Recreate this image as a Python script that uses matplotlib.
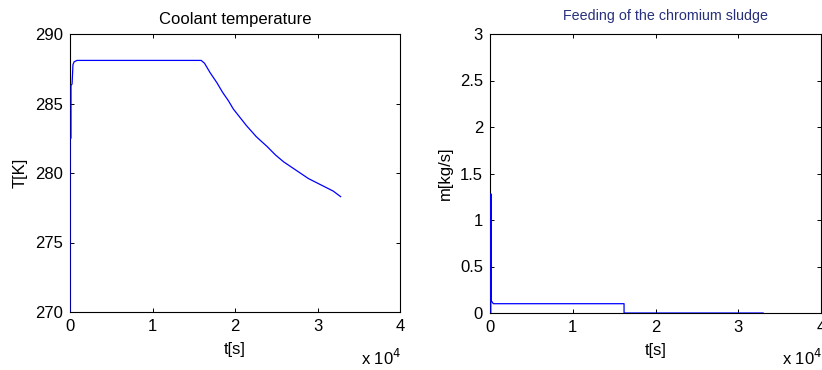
import matplotlib.pyplot as plt
import numpy as np

plt.rcParams['font.family'] = ['Liberation Sans', 'DejaVu Sans']

# coolant temperature
t_cool = [0, 0, 120, 120, 250, 360, 500, 850, 15900, 16300, 16600, 17000, 17800,
          18500, 19200, 19800, 20600, 21400, 22600, 23900, 24900, 25900, 26900,
          27900, 28900, 29900, 30900, 31900, 32800]
T_cool = [270, 282.5, 282.5, 286.3, 286.4, 287.8, 288.0, 288.1, 288.1, 287.9, 287.6,
          287.2, 286.5, 285.8, 285.2, 284.6, 284.0, 283.4, 282.6, 281.9, 281.3,
          280.8, 280.4, 280.0, 279.6, 279.3, 279.0, 278.7, 278.3]

# chromium sludge feeding
t_feed = [100, 100, 130, 150, 250, 400, 16200, 16200, 33000]
m_feed = [0, 1.28, 1.28, 0.13, 0.12, 0.1, 0.1, 0.0, 0.0]

fig = plt.figure(figsize=(8.22, 3.7), dpi=100)
W, H = 822, 370
ax1 = fig.add_axes([70 / W, 1 - 312 / H, 330 / W, 278 / H])
ax2 = fig.add_axes([490 / W, 1 - 313 / H, 331 / W, 279 / H])

ax1.plot(np.array(t_cool) / 1e4, T_cool, color='#0000ff', lw=0.9, zorder=5)
ax1.set_xlim(0, 4)
ax1.set_ylim(270, 290)
ax1.set_xticks([0, 1, 2, 3, 4])
ax1.set_yticks([270, 275, 280, 285, 290])
ax1.set_title('Coolant temperature', fontsize=12, pad=7)
ax1.set_xlabel('t[s]', fontsize=12, labelpad=6)
ax1.set_ylabel('T[K]', fontsize=12, labelpad=5)

ax2.plot(np.array(t_feed) / 1e4, m_feed, color='#0000ff', lw=0.9, zorder=5)
ax2.set_xlim(0, 4)
ax2.set_ylim(0, 3)
ax2.set_xticks([0, 1, 2, 3, 4])
ax2.set_yticks([0, 0.5, 1, 1.5, 2, 2.5, 3])
ax2.set_yticklabels(['0', '0.5', '1', '1.5', '2', '2.5', '3'])
ax2.set_title('Feeding of the chromium sludge', fontsize=10.3, color='#27307a',
              pad=10, x=0.53)
ax2.set_xlabel('t[s]', fontsize=12, labelpad=6)
ax2.set_ylabel('m[kg/s]', fontsize=12, labelpad=5)

for ax in (ax1, ax2):
    ax.tick_params(direction='in', top=True, right=True, length=3, width=0.7,
                   labelsize=12, pad=5)
    for s in ax.spines.values():
        s.set_linewidth(0.8)

fig.text(361 / W, 1 - 365 / H, r'x 10$^{4}$', fontsize=12)
fig.text(782 / W, 1 - 365 / H, r'x 10$^{4}$', fontsize=12)

fig.savefig('out.png', dpi=100)
